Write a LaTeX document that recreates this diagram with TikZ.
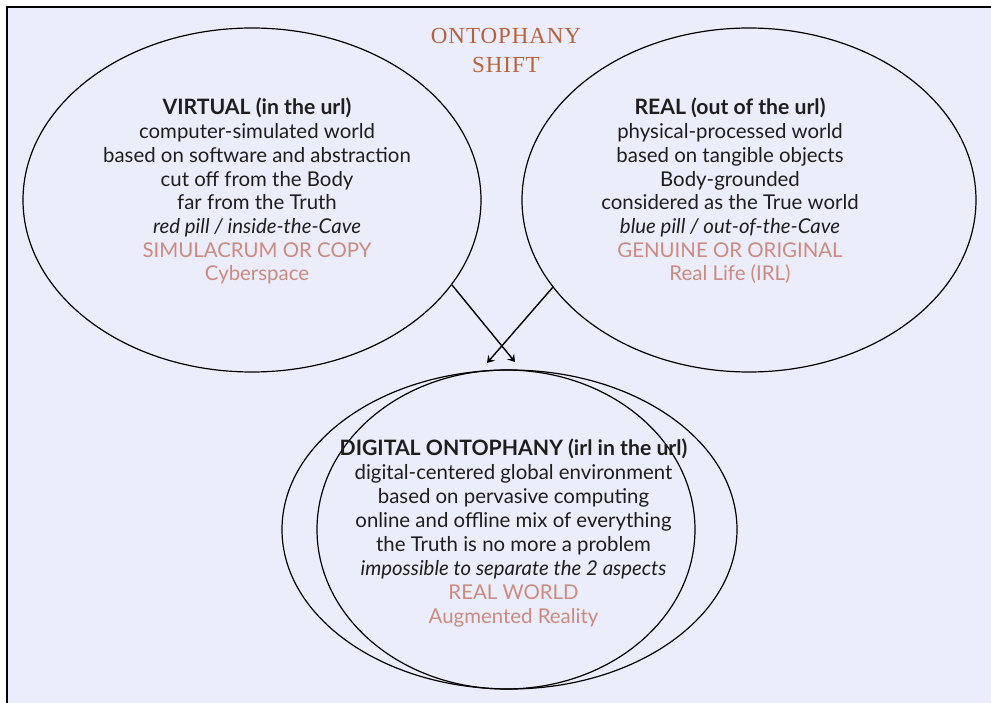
\documentclass[tikz,border=0pt]{standalone}
\usepackage{fontspec}
\setmainfont{Lato}
\newfontfamily\titlefont[LetterSpace=4]{Liberation Serif}
\usetikzlibrary{shapes.geometric,arrows.meta}
\definecolor{bg}{RGB}{236,237,250}
\definecolor{ink}{RGB}{30,30,30}
\definecolor{rose}{RGB}{204,138,128}
\definecolor{rust}{RGB}{184,98,58}
\begin{document}
\begin{tikzpicture}[x=1pt,y=-1pt,
  txt/.style={anchor=base, inner sep=0pt, text=ink, font=\fontsize{20.4}{23.7}\selectfont},
  hd/.style={txt, font=\fontsize{21.2}{23.7}\selectfont\bfseries},
  it/.style={txt, font=\fontsize{20.4}{23.7}\selectfont\itshape},
  pk/.style={txt, text=rose},
  ttl/.style={anchor=base, inner sep=0pt, text=rust, font=\titlefont\fontsize{23}{28}\selectfont},
  oval/.style={draw=black, ellipse, line width=1.2pt, inner sep=0pt},
  arr/.style={line width=1.4pt, -{Stealth[length=7pt,width=9pt,inset=2.5pt]}}
  ]
\useasboundingbox (0,0) rectangle (991,703);
\fill[white] (0,0) rectangle (991,703);
\fill[bg] (7,7) rectangle (991,703);
\draw[line width=1.6pt] (7,703) -- (7,7) -- (991,7);

% title
\node[ttl] (t1) at (506,44) {ONTOPHANY};
\node[ttl] (t2) at (506,73) {SHIFT};

% ellipses
\node[oval, minimum width=458pt, minimum height=344pt] (virtual) at (252,200) {};
\node[oval, minimum width=454pt, minimum height=344pt] (real) at (749,200) {};
\node[oval, minimum width=455pt, minimum height=319pt] (digout) at (509.5,529.5) {};
\node[oval, minimum width=378pt, minimum height=319pt] (digin) at (506,529.5) {};

% arrows
\coordinate (e1) at (515,362);
\coordinate (e2) at (487,363);
\draw[arr] (virtual.-23) -- (e1);
\draw[arr] (real.-156.6) -- (e2);

% left block
\node[hd] (l1) at (257,115) {VIRTUAL (in the url)};
\node[txt] (l2) at (257,138.7) {computer-simulated world};
\node[txt] (l3) at (257,162.4) {based on software and abstraction};
\node[txt] (l4) at (257,186.1) {cut off from the Body};
\node[txt] (l5) at (257,209.8) {far from the Truth};
\node[it] (l6) at (257,233.5) {red pill / inside-the-Cave};
\node[pk] (l7) at (257,257.2) {SIMULACRUM OR COPY};
\node[pk] (l8) at (257,280.9) {Cyberspace};

% right block
\node[hd] (r1) at (730,115) {REAL (out of the url)};
\node[txt] (r2) at (730,138.7) {physical-processed world};
\node[txt] (r3) at (730,162.4) {based on tangible objects};
\node[txt] (r4) at (730,186.1) {Body-grounded};
\node[txt] (r5) at (730,209.8) {considered as the True world};
\node[it] (r6) at (730,233.5) {blue pill / out-of-the-Cave};
\node[pk] (r7) at (730,257.2) {GENUINE OR ORIGINAL};
\node[pk] (r8) at (730,280.9) {Real Life (IRL)};

% bottom block
\node[hd] (d1) at (513.5,455) {DIGITAL ONTOPHANY (irl in the url)};
\node[txt] (d2) at (513.5,479) {digital-centered global environment};
\node[txt] (d3) at (513.5,503) {based on pervasive computing};
\node[txt] (d4) at (513.5,527) {online and offline mix of everything};
\node[txt] (d5) at (513.5,551) {the Truth is no more a problem};
\node[it] (d6) at (513.5,575) {impossible to separate the 2 aspects};
\node[pk] (d7) at (513.5,599) {REAL WORLD};
\node[pk] (d8) at (513.5,623) {Augmented Reality};
\end{tikzpicture}
\end{document}
